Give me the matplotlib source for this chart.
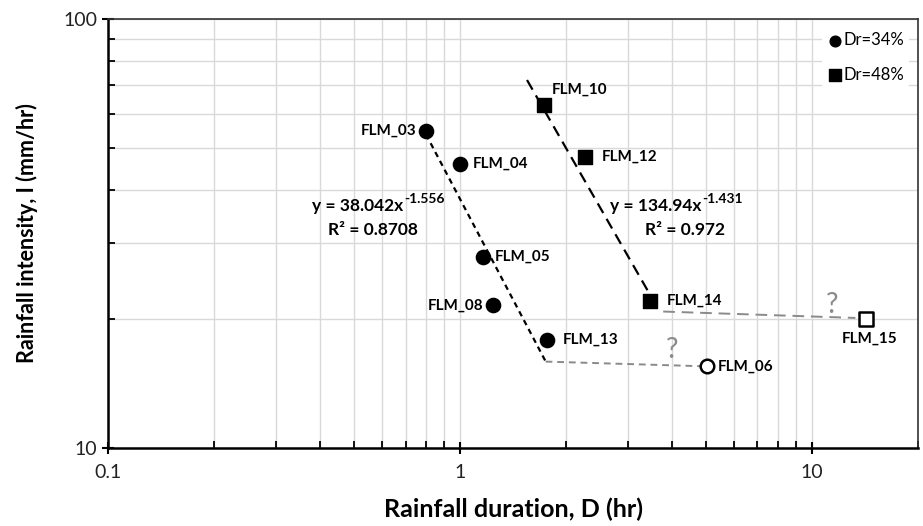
import matplotlib.pyplot as plt
from matplotlib.ticker import LogLocator, NullFormatter, FixedLocator, FixedFormatter

# data
labels_34 = ["FLM_03", "FLM_04", "FLM_05", "FLM_08", "FLM_13"]
dur_34 = [0.80, 1.00, 1.16, 1.24, 1.77]
int_34 = [54.8, 45.9, 27.9, 21.5, 17.9]

labels_48 = ["FLM_10", "FLM_12", "FLM_14"]
dur_48 = [1.73, 2.26, 3.47]
int_48 = [63.0, 47.7, 22.0]

open_labels = ["FLM_06", "FLM_15"]
open_dur = [5.02, 14.3]
open_int = [15.5, 20.0]

# power-law fits shown on chart
fit_34 = (38.042, -1.556)
fit_34_x = [0.80, 1.75]
fit_48 = (134.94, -1.431)
fit_48_x = [1.55, 3.47]

# gray guess lines
guess_06_x = [1.75, 5.0]
guess_06_y = [15.9, 15.5]
guess_15_x = [3.78, 13.3]
guess_15_y = [20.8, 20.1]

plt.rcParams["font.family"] = ["Lato", "DejaVu Sans"]

fig = plt.figure(figsize=(9.23, 5.26), dpi=100)
ax = fig.add_axes([0.1173, 0.1483, 0.877, 0.8156])
ax.set_xscale("log")
ax.set_yscale("log")
ax.set_xlim(0.1, 20)
ax.set_ylim(10, 100)

# fits
xs = fit_34_x
ax.plot(xs, [fit_34[0] * x ** fit_34[1] for x in xs], color="black", lw=1.6,
        dashes=(2.5, 2), zorder=2)
xs = fit_48_x
ax.plot(xs, [fit_48[0] * x ** fit_48[1] for x in xs], color="black", lw=1.6,
        dashes=(5, 3), zorder=2)

ax.plot(guess_06_x, guess_06_y, color="#8a8a8a", lw=1.4, dashes=(3.5, 2.5), zorder=2)
ax.plot(guess_15_x, guess_15_y, color="#8a8a8a", lw=1.4, dashes=(6, 3.5), zorder=2)

ax.scatter(dur_34, int_34, marker="o", s=105, color="black", zorder=3, label="Dr=34%")
ax.scatter(dur_48, int_48, marker="s", s=115, color="black", zorder=3, label="Dr=48%")
ax.scatter(open_dur[0], open_int[0], marker="o", s=95, facecolor="white",
           edgecolor="black", linewidth=1.8, zorder=3)
ax.scatter(open_dur[1], open_int[1], marker="s", s=100, facecolor="white",
           edgecolor="black", linewidth=1.8, zorder=3)

# point labels
offsets = {
    "FLM_03": (-7, 0, "right"), "FLM_04": (9, 0, "left"), "FLM_05": (9, 0, "left"),
    "FLM_08": (-7, 0, "right"), "FLM_13": (11, 0, "left"),
    "FLM_10": (6, 11, "left"), "FLM_12": (12, 0, "left"), "FLM_14": (12, 0, "left"),
    "FLM_06": (8, 0, "left"), "FLM_15": (2, -14, "center"),
}
for lab, x, y in zip(labels_34 + labels_48 + open_labels,
                     dur_34 + dur_48 + open_dur, int_34 + int_48 + open_int):
    dx, dy, ha = offsets[lab]
    ax.annotate(lab, (x, y), xytext=(dx, dy), textcoords="offset points",
                ha=ha, va="center", fontsize=11, fontweight="bold")

# equations (base text + exponent as separate bold text)
eqs = [
    (0.689, 0.566, "y = 38.042x", "-1.556", "R² = 0.8708"),
    (4.85, 4.36, "y = 134.94x", "-1.431", "R² = 0.972"),
]
for xa, xr, base, expo, r2 in eqs:
    ax.text(xa, 35.6, base, ha="right", va="baseline", fontsize=12.5, fontweight="bold")
    ax.annotate(expo, (xa, 35.6), xytext=(0.5, 6), textcoords="offset points",
                ha="left", va="baseline", fontsize=10, fontweight="bold")
    ax.text(xr, 31.4, r2, ha="center", va="baseline", fontsize=12.5, fontweight="bold")

ax.text(4.0, 16.9, "?", color="#8a8a8a", fontsize=20, ha="center", va="center")
ax.text(11.4, 21.6, "?", color="#8a8a8a", fontsize=20, ha="center", va="center")

# axes styling
ax.xaxis.set_major_locator(FixedLocator([0.1, 1, 10]))
ax.xaxis.set_major_formatter(FixedFormatter(["0.1", "1", "10"]))
ax.yaxis.set_major_locator(FixedLocator([10, 100]))
ax.yaxis.set_major_formatter(FixedFormatter(["10", "100"]))
ax.xaxis.set_minor_locator(LogLocator(base=10, subs=range(2, 10)))
ax.yaxis.set_minor_locator(LogLocator(base=10, subs=range(2, 10)))
ax.xaxis.set_minor_formatter(NullFormatter())
ax.yaxis.set_minor_formatter(NullFormatter())
ax.tick_params(which="major", direction="inout", length=9, width=1.5, labelsize=14,
               labelcolor="#222222")
ax.tick_params(axis="x", which="major", pad=7)
ax.tick_params(which="minor", direction="in", length=5, width=1.3)
ax.grid(which="both", color="#d9d9d9", lw=1.0)
ax.set_axisbelow(True)
for side in ["left", "bottom"]:
    ax.spines[side].set_linewidth(1.8)
for side in ["top", "right"]:
    ax.spines[side].set_linewidth(1.2)
    ax.spines[side].set_color("#333333")

ax.set_xlabel("Rainfall duration, D (hr)", fontsize=18, fontweight="bold", labelpad=12)
ax.set_ylabel("Rainfall intensity, I (mm/hr)", fontsize=15.5, fontweight="bold", labelpad=18)

leg = ax.legend(loc="upper right", fontsize=12, frameon=True, facecolor="white",
                edgecolor="none", framealpha=1, handletextpad=0.0, markerscale=0.75,
                borderaxespad=0.5, labelspacing=1.1, handlelength=1.0, borderpad=0.3)

fig.savefig("out.png", dpi=100)
